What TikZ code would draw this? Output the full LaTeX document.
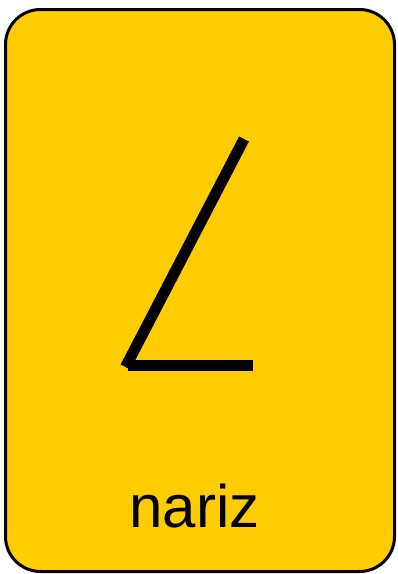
\documentclass[tikz,border=0pt]{standalone}
\usepackage{fontspec}
\setmainfont{Liberation Sans}
\usepackage{tikz}
\definecolor{cardyellow}{HTML}{FFCC00}

\begin{document}
\begin{tikzpicture}[
  x=1pt, y=-1pt,
  card/.style={draw=black, line width=3pt, fill=cardyellow, rounded corners=35pt,
    minimum width=389pt, minimum height=562pt, inner sep=0pt, outer sep=0pt},
  stroke/.style={draw=black, line width=11pt, line cap=butt},
  word/.style={font=\fontsize{60}{62}\selectfont, inner sep=0pt, anchor=base}
]
\useasboundingbox (0,0) rectangle (397,574);
\node[card] (card) at (200,290.5) {};
\coordinate (tip) at (244,139);
\coordinate (corner) at (125.5,367);
\coordinate (foot) at (128,365);
\coordinate (end) at (253,365);
\draw[stroke] (tip) -- (corner);
\draw[stroke] (foot) -- (end);
\node[word] (name) at (194.5,527) {nariz};
\end{tikzpicture}
\end{document}
